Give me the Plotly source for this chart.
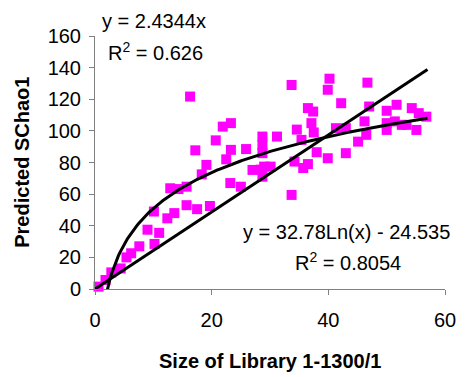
import plotly.graph_objects as go
import numpy as np

# Observed points (Size of Library, Predicted SChao1)
lib_size = [0.6, 1.8, 2.8, 4.4, 5.4, 6.2, 7.6, 10.2, 9.0, 11.0, 10.1, 12.4, 13.6, 15.7, 17.5, 19.7,
            12.9, 14.3, 15.7, 18.3, 19.1, 17.2, 16.3, 21.9, 23.3, 20.7, 22.5, 23.3, 25.9, 23.2, 25.0,
            28.7, 27.0, 28.4, 28.7, 28.7, 29.0, 30.1, 31.2, 33.7, 40.2, 39.9, 46.7, 42.2, 36.5, 37.4,
            47.0, 50.0, 51.7, 54.3, 55.5, 56.8, 34.6, 37.1, 37.5, 41.3, 46.2, 50.0, 50.0, 52.6, 55.1,
            46.5, 43.0, 45.1, 35.4, 38.0, 39.9, 43.0, 35.7, 36.5, 34.2, 33.7, 28.7, 51.4, 53.4]
schao1 = [1.5, 5.7, 10.5, 13.0, 20.0, 22.6, 27.0, 28.5, 37.5, 35.5, 49.0, 44.7, 48.0, 53.0, 50.5, 52.5,
          63.7, 63.2, 64.7, 72.5, 78.5, 87.7, 121.7, 102.7, 104.9, 94.0, 82.0, 88.0, 88.5, 67.0, 64.7,
          96.4, 75.3, 75.5, 91.0, 71.0, 77.4, 77.4, 96.4, 129.0, 133.0, 126.0, 130.5, 117.5, 114.4, 112.2,
          115.4, 112.7, 116.5, 114.4, 111.2, 109.0, 100.8, 104.9, 99.0, 101.7, 106.0, 104.9, 100.6, 103.8, 100.6,
          97.5, 101.7, 93.2, 94.3, 86.5, 82.7, 85.9, 76.5, 79.0, 80.6, 59.5, 85.9, 106.0, 103.8]

# Trendline coefficients (as displayed)
lin_slope = 2.4344
log_a, log_b = 32.78, -24.535
trend_x_end = 57.0

x_ticks = [0, 20, 40, 60]
y_ticks = [0, 20, 40, 60, 80, 100, 120, 140, 160]

FONT = "Liberation Sans, Arial, sans-serif"

fig = go.Figure()
fig.add_trace(go.Scatter(
    x=lib_size, y=schao1, mode="markers",
    marker=dict(symbol="square", size=10, color="#FF00FF", line=dict(width=0)),
    cliponaxis=False, showlegend=False))

xl = np.array([0.0, trend_x_end])
fig.add_trace(go.Scatter(x=xl, y=lin_slope * xl, mode="lines",
                         line=dict(color="black", width=3), showlegend=False))
xg = np.linspace(min(lib_size), trend_x_end, 200)
fig.add_trace(go.Scatter(x=xg, y=log_a * np.log(xg) + log_b, mode="lines",
                         line=dict(color="black", width=3), showlegend=False))

axis_common = dict(showgrid=False, zeroline=False, showline=True, linecolor="#808080",
                   linewidth=1, ticks="outside", ticklen=5, tickcolor="#808080",
                   tickfont=dict(family=FONT, size=20, color="black"))
fig.update_xaxes(range=[0, 60], tickvals=x_ticks, ticklabelstandoff=8, **axis_common)
fig.update_yaxes(range=[0, 160], tickvals=y_ticks, ticklabelstandoff=4, **axis_common)

ann_font = dict(family=FONT, size=20, color="black")
fig.update_layout(
    width=468, height=377,
    margin=dict(l=95, r=17, t=36, b=88),
    paper_bgcolor="white", plot_bgcolor="white",
    annotations=[
        dict(text="y = 2.4344x", x=0.1685, y=1.0593, xref="paper", yref="paper", showarrow=False,
             xanchor="center", yanchor="middle", font=ann_font),
        dict(text="R<sup>2</sup> = 0.626", x=10.3, y=149.9, xref="x", yref="y", showarrow=False,
             xanchor="center", yanchor="middle", font=ann_font),
        dict(text="y = 32.78Ln(x) - 24.535", x=43.15, y=36.0, xref="x", yref="y", showarrow=False,
             xanchor="center", yanchor="middle", font=ann_font),
        dict(text="R<sup>2</sup> = 0.8054", x=43.3, y=17.1, xref="x", yref="y", showarrow=False,
             xanchor="center", yanchor="middle", font=ann_font),
        dict(text="<b>Size of Library 1-1300/1</b>", x=0.5, y=-0.2846, xref="paper", yref="paper",
             showarrow=False, xanchor="center", yanchor="middle",
             font=dict(family=FONT, size=20, color="black")),
        dict(text="<b>Predicted SChao1</b>", x=-0.2107, y=0.5, xref="paper", yref="paper",
             showarrow=False, xanchor="center", yanchor="middle", textangle=-90,
             font=dict(family=FONT, size=20, color="black")),
    ],
)

fig.write_html("out.html")
